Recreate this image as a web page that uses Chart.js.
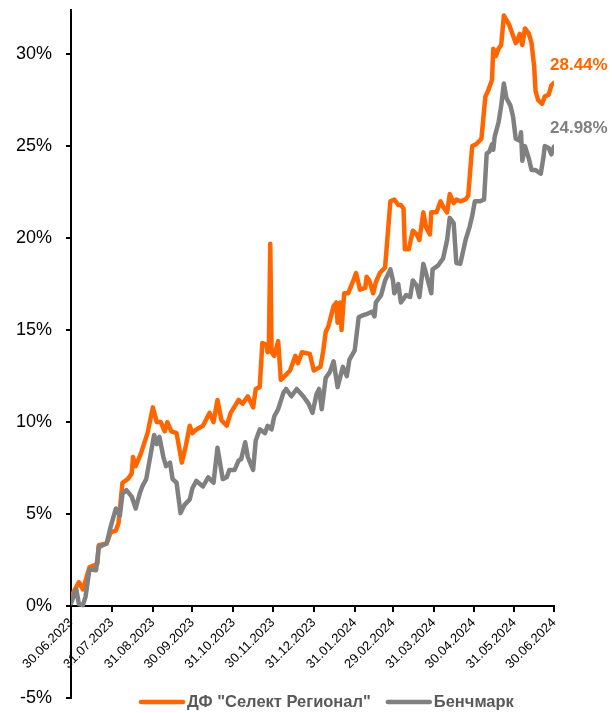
<!DOCTYPE html>
<html>
<head>
<meta charset="utf-8">
<script src="https://cdn.jsdelivr.net/npm/chart.js@4.4.1/dist/chart.umd.min.js"></script>
<style>
  html,body{margin:0;padding:0;background:#fff;}
  #wrap{width:612px;height:713px;position:relative;}
</style>
</head>
<body>
<div id="wrap"><canvas id="chart"></canvas></div>
<script>
const FONT = "'Liberation Sans',Arial,sans-serif";

// days since 30.06.2023
const tickDays   = [0,31,62,92,123,153,184,215,244,275,305,336,366];
const tickLabels = ["30.06.2023","31.07.2023","31.08.2023","30.09.2023","31.10.2023","30.11.2023",
                    "31.12.2023","31.01.2024","29.02.2024","31.03.2024","30.04.2024","31.05.2024","30.06.2024"];
const yTicks = [-5,0,5,10,15,20,25,30];

const seriesNames = ['ДФ "Селект Регионал"', "Бенчмарк"];
const endLabels = ["28.44%", "24.98%"];

const fundDays = [0,6,9,14,20,21,27,30,34,36,39,43,46,47,49,53,58,62,65,68,71,73,76,80,84,87,90,92,95,100,
  105,108,111,114,118,121,127,130,134,138,140,143,145,148,149,150,151,152,154,157,159,162,166,170,172,175,181,184,189,191,
  193,195,199,201,202,204,205,207,210,214,216,219,223,224,226,229,231,234,238,242,245,248,250,252,253,256,259,262,264,267,
  269,272,273,277,280,282,285,287,290,292,295,299,301,304,307,311,314,316,319,320,322,324,326,328,332,335,337,338,340,342,
  344,347,349,351,352,354,357,359,362,364,366];
const fundValues = [0.5,1.3,0.9,2.1,2.3,3.3,3.4,4.0,4.1,4.5,6.7,6.9,7.2,8.1,7.6,8.3,9.4,10.8,10.0,10.0,9.5,10.0,9.5,9.4,7.8,8.7,9.8,9.4,9.6,9.8,
  10.5,10.0,11.2,10.1,9.8,10.5,11.2,11.0,11.4,10.8,11.8,11.9,14.3,14.2,13.8,14.3,19.7,13.8,13.6,14.4,12.3,12.5,12.8,13.6,13.2,13.8,13.7,12.8,13.0,13.8,
  14.9,15.2,16.3,16.5,15.4,16.5,15.0,17.0,17.0,17.7,18.1,17.2,17.3,17.9,17.7,17.0,17.6,18.1,18.4,22.0,22.1,21.8,21.8,21.6,19.4,19.4,20.4,20.2,19.9,21.4,
  20.6,20.2,21.4,21.4,22.0,21.7,21.4,22.4,21.9,22.1,22.0,22.1,22.3,25.0,25.1,25.4,27.7,28.0,28.6,30.3,29.9,30.3,30.5,32.1,31.6,31.0,30.6,30.7,31.1,30.5,
  31.4,31.1,30.6,29.3,28.0,27.5,27.3,27.7,27.8,28.3,28.44];

const benchDays = [0,4,6,9,11,14,19,21,27,30,34,37,39,42,46,49,52,54,57,61,63,65,67,70,72,75,77,80,83,86,
  90,92,95,100,104,108,111,115,118,120,124,127,129,132,134,138,140,143,147,149,152,154,157,161,163,167,171,176,180,183,
  186,188,190,193,196,199,202,206,209,211,215,218,221,225,228,230,231,235,238,242,244,245,248,250,254,257,259,262,264,267,
  269,273,274,278,282,285,287,290,292,295,299,302,304,306,310,313,315,317,319,320,321,324,326,328,330,333,335,337,340,341,
  342,344,347,349,352,356,358,359,362,364,366];
const benchValues = [0.15,0.9,0.1,0.05,0.5,2.0,1.95,3.2,3.4,4.3,5.3,4.9,6.1,6.3,5.95,5.3,6.1,6.5,6.9,8.5,9.3,8.8,9.2,8.1,7.6,7.8,6.9,6.7,5.05,5.5,
  5.8,6.4,6.8,6.5,7.0,6.7,8.6,6.9,7.0,7.4,7.4,7.9,8.0,8.9,8.1,7.4,9.0,9.6,9.4,9.8,9.6,10.3,10.7,11.6,11.8,11.4,11.8,11.4,11.0,10.5,
  11.5,11.8,10.7,12.4,12.7,13.3,11.9,13.0,12.5,13.4,13.9,15.7,15.8,15.9,16.0,15.75,16.5,16.9,17.7,18.3,17.7,17.0,17.5,16.5,16.9,16.8,17.7,17.4,16.8,18.6,
  18.1,17.0,18.3,18.5,18.9,19.9,21.1,20.8,18.65,18.6,19.9,20.6,21.2,22.0,22.0,22.1,24.6,24.7,25.1,24.8,25.5,26.3,27.2,28.4,27.6,27.2,26.6,25.4,25.3,25.75,
  24.2,25.0,24.3,23.7,23.7,23.5,24.4,25.0,24.9,24.55,24.98];

const ORANGE = "#ff6600";
const GRAY = "#808080";

const toPoints = (xs, ys) => xs.map((d,i)=>({x:d, y:ys[i]}));
const noPad = s => { s.paddingTop = 0; s.paddingBottom = 0; s.paddingLeft = 0; s.paddingRight = 0; };

// end-of-line value labels
const endLabelPlugin = {
  id:"endLabels",
  afterDatasetsDraw(chart){
    const ctx = chart.ctx;
    ctx.save();
    ctx.font = "bold 17px " + FONT;
    ctx.textAlign = "left";
    ctx.textBaseline = "middle";
    chart.data.datasets.forEach((ds,i)=>{
      const pts = chart.getDatasetMeta(i).data;
      const p = pts[pts.length-1];
      ctx.fillStyle = ds.borderColor;
      ctx.fillText(endLabels[i], p.x-4, p.y-18);
    });
    ctx.restore();
  }
};

// legend drawn over the bottom of the plot, like the original
const bottomLegend = {
  id:"bottomLegend",
  afterDraw(chart){
    const ctx = chart.ctx;
    const y = chart.chartArea.bottom + 4;
    let x = 139;
    ctx.save();
    ctx.font = "bold 16.5px " + FONT;
    ctx.textBaseline = "middle";
    ctx.lineCap = "round";
    chart.data.datasets.forEach(ds=>{
      ctx.strokeStyle = ds.borderColor;
      ctx.lineWidth = 4.5;
      ctx.beginPath(); ctx.moveTo(x+2,y); ctx.lineTo(x+44,y); ctx.stroke();
      x += 48;
      ctx.fillStyle = "#595959";
      ctx.fillText(ds.label, x, y);
      x += ctx.measureText(ds.label).width + 15;
    });
    ctx.restore();
  }
};

new Chart(document.getElementById("chart"),{
  type:"line",
  data:{
    datasets:[
      {label:seriesNames[0], data:toPoints(fundDays,fundValues), borderColor:ORANGE, backgroundColor:ORANGE,
       borderWidth:4.5, pointRadius:0, tension:0, borderJoinStyle:"round", borderCapStyle:"round", order:1},
      {label:seriesNames[1], data:toPoints(benchDays,benchValues), borderColor:GRAY, backgroundColor:GRAY,
       borderWidth:4.5, pointRadius:0, tension:0, borderJoinStyle:"round", borderCapStyle:"round", order:0}
    ]
  },
  options:{
    responsive:true,
    maintainAspectRatio:false,
    animation:false,
    layout:{padding:{top:10,right:58,bottom:15,left:0}},
    plugins:{legend:{display:false}, tooltip:{enabled:false}},
    scales:{
      x:{
        type:"linear",
        position:{y:0},
        min:0, max:366,
        afterBuildTicks:s=>{ s.ticks = tickDays.map(v=>({value:v})); },
        afterFit:noPad,
        ticks:{
          autoSkip:false, minRotation:45, maxRotation:45, padding:4,
          color:"#000", font:{family:FONT, size:13},
          callback:(v)=>tickLabels[tickDays.indexOf(v)]
        },
        grid:{drawOnChartArea:false, drawTicks:true, tickLength:5, color:"#000", lineWidth:2},
        border:{display:true, color:"#000", width:2}
      },
      y:{
        min:-5, max:32.4,
        afterBuildTicks:s=>{ s.ticks = yTicks.map(v=>({value:v})); },
        afterFit:s=>{ s.width = 71; noPad(s); },
        ticks:{
          padding:14, color:"#000", font:{family:FONT, size:18},
          callback:v=>v+"%"
        },
        grid:{drawOnChartArea:false, drawTicks:true, tickLength:5, color:"#000", lineWidth:2},
        border:{display:true, color:"#000", width:2}
      }
    }
  },
  plugins:[endLabelPlugin, bottomLegend]
});
</script>
</body>
</html>
